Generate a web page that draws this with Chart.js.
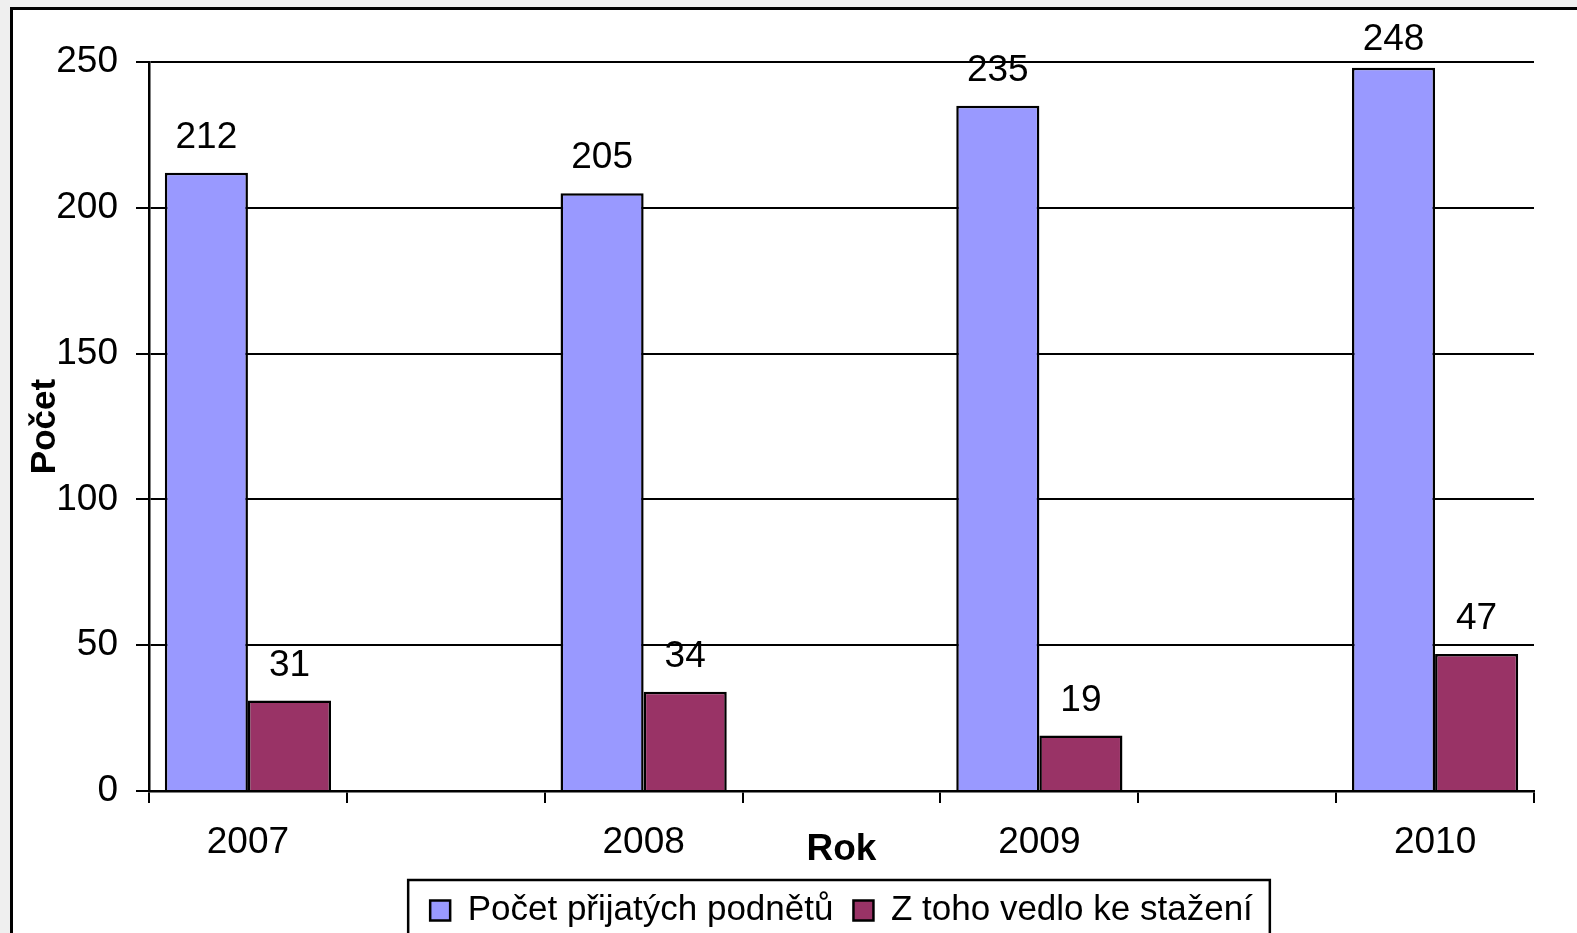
<!DOCTYPE html>
<html>
<head>
<meta charset="utf-8">
<script src="https://cdn.jsdelivr.net/npm/chart.js@4/dist/chart.umd.min.js"></script>
<style>
  html, body { margin: 0; padding: 0; overflow: hidden; background: #efefef; }
  #frame { position: absolute; left: 10px; top: 7px; width: 1620px; height: 1000px;
           border: 3px solid #000; background: #fff; }
  #c { position: absolute; left: 0; top: 0; }
</style>
</head>
<body>
<div id="frame"></div>
<canvas id="c" width="1577" height="955"></canvas>
<script>
var FONT = '"Liberation Sans", Arial, sans-serif';

// data
var years = ['2007', '2008', '2009', '2010'];
var received = [212, 205, 235, 248];
var withdrawn = [31, 34, 19, 47];
var yTicks = [0, 50, 100, 150, 200, 250];

// Excel left an empty category between the years
var labels = [], recData = [], wdData = [];
years.forEach(function (y, i) {
  if (i > 0) { labels.push(''); recData.push(null); wdData.push(null); }
  labels.push(y); recData.push(received[i]); wdData.push(withdrawn[i]);
});

var valueLabels = {
  id: 'valueLabels',
  afterDatasetsDraw: function (chart) {
    var ctx = chart.ctx;
    ctx.save();
    ctx.font = '37px ' + FONT;
    ctx.fillStyle = '#000';
    ctx.textAlign = 'center';
    ctx.textBaseline = 'alphabetic';
    chart.data.datasets.forEach(function (ds, i) {
      chart.getDatasetMeta(i).data.forEach(function (bar, j) {
        var v = ds.data[j];
        if (v == null) return;
        ctx.fillText(v, bar.x, Math.max(bar.y - 25, 50));
      });
    });
    ctx.restore();
  }
};

var legendBox = {
  id: 'legendBox',
  afterDraw: function (chart) {
    var boxes = chart.legend.legendHitBoxes;
    if (!boxes || !boxes.length) return;
    var l = Math.min.apply(null, boxes.map(function (b) { return b.left; })) - 22;
    var r = Math.max.apply(null, boxes.map(function (b) { return b.left + b.width; })) + 17;
    var t = chart.legend.top + 7;
    var ctx = chart.ctx;
    ctx.save();
    ctx.strokeStyle = '#000';
    ctx.lineWidth = 2.5;
    ctx.strokeRect(l, t, r - l, chart.height + 20 - t);
    ctx.restore();
  }
};

new Chart(document.getElementById('c'), {
  type: 'bar',
  data: {
    labels: labels,
    datasets: [{
      label: 'Počet přijatých podnětů',
      data: recData,
      backgroundColor: '#9999FF',
      borderColor: '#000',
      borderWidth: 2.5
    }, {
      label: 'Z toho vedlo ke stažení',
      data: wdData,
      backgroundColor: '#993366',
      borderColor: '#000',
      borderWidth: 2.5
    }]
  },
  options: {
    responsive: false,
    animation: false,
    layout: { padding: { top: 62, left: 0, right: 43, bottom: 17 } },
    datasets: { bar: { categoryPercentage: 0.84, barPercentage: 1 } },
    plugins: {
      tooltip: { enabled: false },
      legend: {
        position: 'bottom',
        fullSize: false,
        labels: {
          color: '#000',
          font: { family: FONT, size: 35 },
          boxWidth: 20,
          boxHeight: 20,
          padding: 20
        }
      }
    },
    scales: {
      x: {
        afterFit: function (s) { s.height = 82; },
        grid: { drawOnChartArea: false, color: '#000', lineWidth: 2, tickLength: 12 },
        border: { color: '#000', width: 2.5 },
        ticks: {
          color: '#000', autoSkip: false, maxRotation: 0, padding: 18,
          font: { family: FONT, size: 37 }
        },
        title: {
          display: true, text: 'Rok', color: '#000',
          font: { family: FONT, size: 37, weight: 'bold' },
          padding: { top: 0, bottom: 1 }
        }
      },
      y: {
        min: 0,
        max: 250,
        afterFit: function (s) { s.width = 149; },
        afterBuildTicks: function (s) { s.ticks = yTicks.map(function (v) { return { value: v }; }); },
        grid: { color: '#000', lineWidth: 2, tickLength: 13 },
        border: { color: '#000', width: 2.5 },
        ticks: { color: '#000', padding: 18, font: { family: FONT, size: 37 } },
        title: {
          display: true, text: 'Počet', color: '#000',
          font: { family: FONT, size: 35, weight: 'bold' },
          padding: { top: 24, bottom: 0 }
        }
      }
    }
  },
  plugins: [valueLabels, legendBox]
});
</script>
</body>
</html>
